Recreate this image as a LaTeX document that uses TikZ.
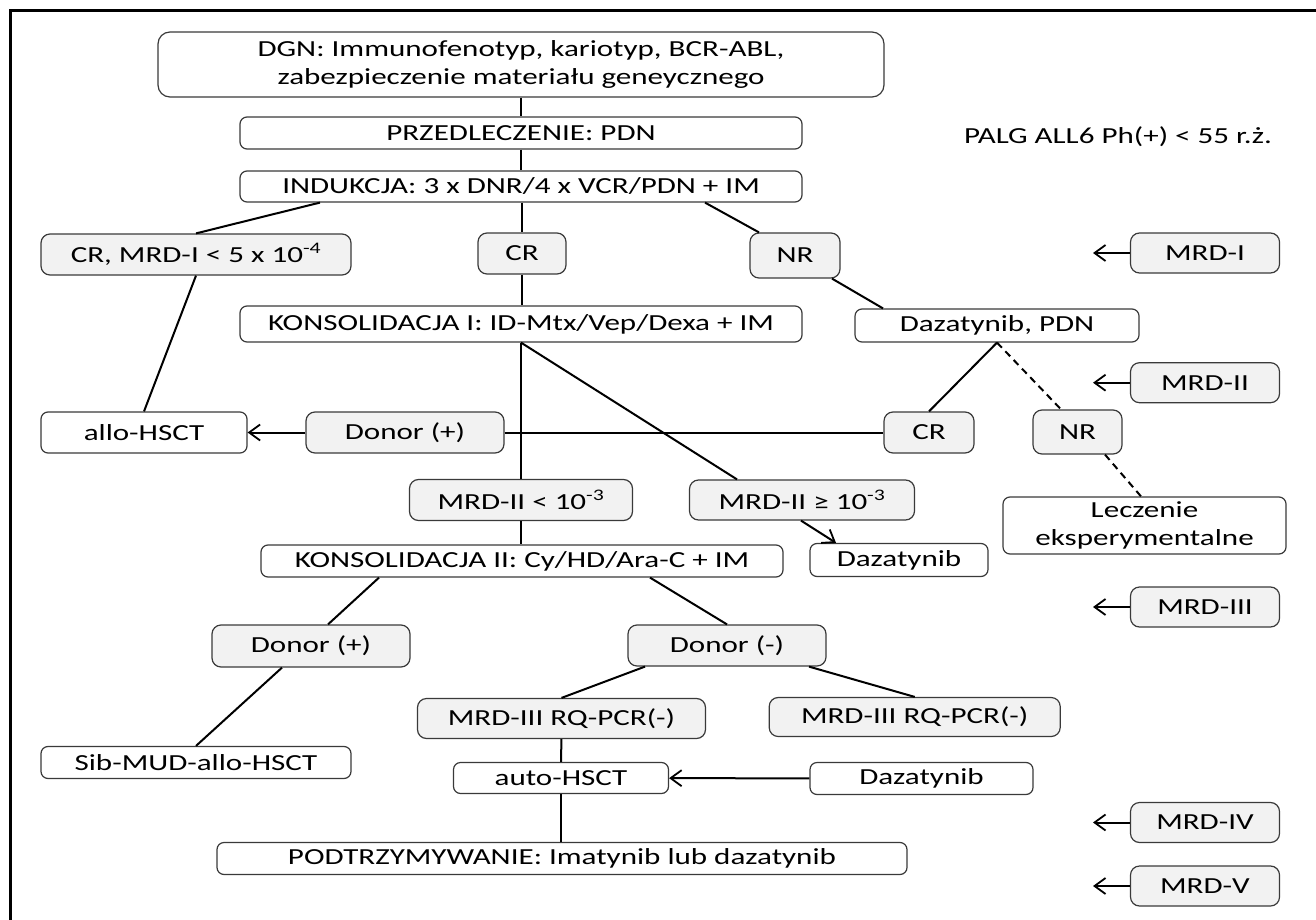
\documentclass[tikz,border=0pt]{standalone}
\usepackage{fontspec}
\setmainfont{Carlito}[FakeStretch=1.35]
\usetikzlibrary{arrows.meta}
\definecolor{boxgray}{HTML}{F2F2F2}
\definecolor{edgegray}{HTML}{3A3A3A}

\begin{document}
\begin{tikzpicture}[x=1pt,y=-1pt,
                    box/.style={draw=edgegray, line width=1.2pt, rounded corners=7pt, fill=white,
                                inner sep=0pt, align=center, font=\fontsize{23}{28}\selectfont},
                    gbox/.style={box, fill=boxgray, rounded corners=9pt},
                    sz/.style 2 args={minimum width=#1pt, minimum height=#2pt},
                    link/.style={line width=2pt},
                    >={Straight Barb[length=11pt,width=16pt,line width=1.8pt]}]
    \useasboundingbox (0,0) rectangle (1316,920);
    \draw[line width=3pt] (10,940) -- (10,11) -- (1330,11);

    % main column
    \node[box, sz={726}{65}, rounded corners=12pt] (dgn) at (521,64.5)
        {DGN: Immunofenotyp, kariotyp, BCR-ABL,\\zabezpieczenie materiału geneycznego};
    \node[box, sz={562}{32}] (przed) at (521,133) {PRZEDLECZENIE: PDN};
    \node[box, sz={562}{31}] (indukcja) at (521,186.5) {INDUKCJA: 3 x DNR/4 x VCR/PDN + IM};
    \node[font=\fontsize{23}{28}\selectfont] (palg) at (1118,137) {PALG ALL6 Ph(+) < 55 r.ż.};

    \node[gbox, sz={310}{41}] (crmrd) at (196,254.5) {CR, MRD-I < 5 x 10\textsuperscript{-4}};
    \node[gbox, sz={88}{41}] (cr) at (522,253.5) {CR};
    \node[gbox, sz={90}{45}] (nr) at (795,255.5) {NR};

    \node[box, sz={562}{36}] (kons1) at (521,324) {KONSOLIDACJA I: ID-Mtx/Vep/Dexa + IM};
    \node[box, sz={284}{33}] (dazpdn) at (997,325.5) {Dazatynib, PDN};

    \node[box, sz={206}{41}] (allo) at (144,432.5) {allo-HSCT};
    \node[gbox, sz={198}{41}] (donor1) at (405,432.5) {Donor (+)};
    \node[gbox, sz={90}{41}] (cr2) at (929,432.5) {CR};
    \node[gbox, sz={89}{44}] (nr2) at (1077.5,432) {NR};

    \node[gbox, sz={223}{41}] (mrdlow) at (521,500) {MRD-II < 10\textsuperscript{-3}};
    \node[gbox, sz={225}{40}] (mrdhigh) at (802,500) {MRD-II ≥ 10\textsuperscript{-3}};
    \node[box, sz={283}{57}] (leczenie) at (1144.5,525.5) {Leczenie\\eksperymentalne};
    \node[box, sz={178}{33}] (daz1) at (899,560) {Dazatynib};
    \node[box, sz={522}{32}] (kons2) at (522,561) {KONSOLIDACJA II: Cy/HD/Ara-C + IM};

    \node[gbox, sz={198}{42}] (donor2) at (311,646) {Donor (+)};
    \node[gbox, sz={198}{41}] (donorneg) at (727,645.5) {Donor (-)};
    \node[gbox, sz={288}{40}] (rqa) at (561.5,718.5) {MRD-III RQ-PCR(-)};
    \node[gbox, sz={291}{39}] (rqb) at (914.7,717) {MRD-III RQ-PCR(-)};
    \node[box, sz={310}{32}] (sib) at (196,762.5) {Sib-MUD-allo-HSCT};
    \node[box, sz={215}{31}] (auto) at (561,778) {auto-HSCT};
    \node[box, sz={223}{32}] (daz2) at (921.5,778.5) {Dazatynib};
    \node[box, sz={690}{32}] (podtrz) at (562,858.5) {PODTRZYMYWANIE: Imatynib lub dazatynib};

    % MRD markers on the right
    \foreach \m/\lab/\y in {mrdi/MRD-I/253, mrdii/MRD-II/382.7, mrdiii/MRD-III/607,
                            mrdiv/MRD-IV/822.5, mrdv/MRD-V/886} {
        \node[gbox, sz={149}{40}] (\m) at (1205,\y) {\lab};
        \coordinate (\m-end) at (1093,\y);
        \draw[link,->] (\m) -- (\m-end);
    }

    % connectors
    \draw[link] (dgn) -- (przed);
    \draw[link] (przed) -- (indukcja);
    \draw[link] (indukcja.south -| 320,0) -- (crmrd.north);
    \draw[link] (indukcja.south -| cr.north) -- (cr.north);
    \draw[link] (indukcja.south -| 705,0) -- (nr.north -| 759,0);
    \draw[link] (crmrd.south) -- (allo.north);
    \draw[link] (cr) -- (kons1.north -| cr.south);
    \draw[link] (nr.south -| 832,0) -- (dazpdn.north -| 883,0);
    \draw[link] (kons1.south) -- (mrdlow.north -| kons1.south);
    \draw[link] (kons1.south) -- (mrdhigh.north -| 737,0);
    \draw[link,->] (donor1) -- (allo);
    \draw[link] (donor1) -- (cr2);
    \draw[link] (dazpdn.south) -- (cr2.north);
    \draw[link,dash pattern=on 7pt off 5pt] (dazpdn.south) -- (nr2.north -| 1061,0);
    \draw[link,dash pattern=on 7pt off 5pt] (nr2.south -| 1105,0) -- (leczenie.north -| 1141,0);
    \draw[link,->] (mrdhigh.south -| 801,0) -- (daz1.north -| 836,0);
    \draw[link] (mrdlow.south) -- (kons2.north -| mrdlow.south);
    \draw[link] (kons2.south -| 379,0) -- (donor2.north -| 328,0);
    \draw[link] (kons2.south -| 650,0) -- (donorneg.north);
    \draw[link] (donor2.south -| 282,0) -- (sib.north);
    \draw[link] (donorneg.south -| 645,0) -- (rqa.north);
    \draw[link] (donorneg.south -| 809,0) -- (rqb.north);
    \draw[link] (rqa) -- (auto);
    \draw[link] (auto) -- (podtrz.north -| auto.south);
    \draw[link,->] (daz2) -- (auto);
\end{tikzpicture}
\end{document}
